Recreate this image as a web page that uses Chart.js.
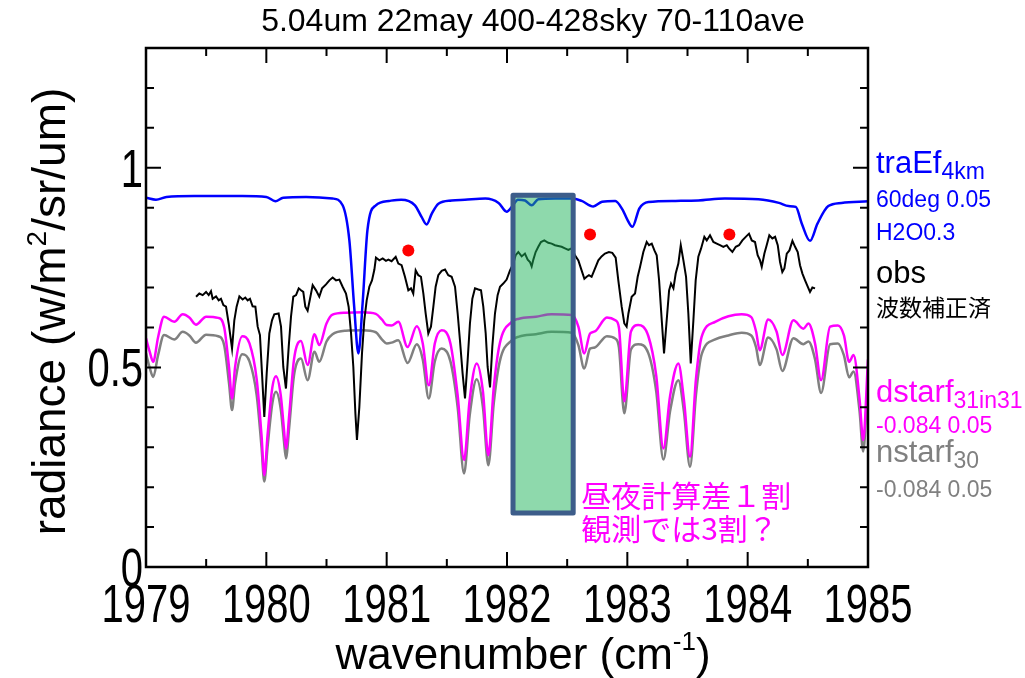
<!DOCTYPE html>
<html lang="ja">
<head>
    <meta charset="UTF-8">
    <title>5.04um 22may 400-428sky 70-110ave</title>
    <script src="https://cdn.jsdelivr.net/npm/chart.js"></script>
    <style>
        body { margin: 0; background: #fff; }
        #wrap { width: 1025px; height: 678px; }
    </style>
</head>
<body>
<div id="wrap"><canvas id="spectrumChart" width="1025" height="678"></canvas></div>
<script>
    // traEf 4km transmittance-based model (blue)
    var traX = [1979.00, 1979.083, 1979.17, 1979.40, 1979.80, 1980.00, 1980.075, 1980.14, 1980.33, 1980.55,
        1980.634, 1980.69, 1980.73, 1980.765, 1980.80, 1980.84, 1980.91, 1981.02, 1981.12, 1981.235,
        1981.29, 1981.332, 1981.375, 1981.43, 1981.54, 1981.65, 1981.82, 1981.93, 1981.997, 1982.05,
        1982.09, 1982.15, 1982.205, 1982.26, 1982.40, 1982.54, 1982.62, 1982.717, 1982.79, 1982.90,
        1982.96, 1983.00, 1983.042, 1983.10, 1983.175, 1983.40, 1983.59, 1983.81, 1984.09, 1984.26,
        1984.34, 1984.40, 1984.45, 1984.518, 1984.58, 1984.67, 1984.78, 1985.00];
    var traY = [0.925, 0.920, 0.927, 0.929, 0.929, 0.927, 0.916, 0.925, 0.927, 0.923,
        0.906, 0.818, 0.652, 0.535, 0.660, 0.843, 0.906, 0.917, 0.920, 0.906,
        0.877, 0.858, 0.885, 0.910, 0.918, 0.920, 0.923, 0.912, 0.890, 0.906,
        0.920, 0.918, 0.906, 0.921, 0.923, 0.923, 0.917, 0.903, 0.915, 0.917,
        0.895, 0.870, 0.852, 0.898, 0.914, 0.917, 0.918, 0.923, 0.921, 0.912,
        0.904, 0.902, 0.860, 0.817, 0.860, 0.904, 0.912, 0.916];

    // observed spectrum, wavenumber corrected (black)
    var obsX = [1979.416, 1979.443, 1979.471, 1979.499, 1979.521, 1979.540, 1979.554, 1979.582, 1979.604, 1979.623,
        1979.643, 1979.665, 1979.687, 1979.715, 1979.734, 1979.753, 1979.776, 1979.803, 1979.825, 1979.845,
        1979.864, 1979.886, 1979.909, 1979.928, 1979.947, 1979.964, 1979.983, 1980.003, 1980.025, 1980.047,
        1980.066, 1980.102, 1980.122, 1980.141, 1980.163, 1980.186, 1980.205, 1980.224, 1980.247, 1980.269,
        1980.288, 1980.307, 1980.324, 1980.343, 1980.363, 1980.385, 1980.413, 1980.440, 1980.463, 1980.496,
        1980.524, 1980.551, 1980.579, 1980.607, 1980.634, 1980.662, 1980.684, 1980.704, 1980.723, 1980.740,
        1980.753, 1980.773, 1980.795, 1980.814, 1980.834, 1980.856, 1980.878, 1980.898, 1980.911, 1980.939,
        1980.967, 1980.994, 1981.014, 1981.041, 1981.075, 1981.097, 1981.124, 1981.152, 1981.180, 1981.202,
        1981.221, 1981.241, 1981.263, 1981.285, 1981.305, 1981.324, 1981.346, 1981.368, 1981.388, 1981.407,
        1981.429, 1981.457, 1981.485, 1981.512, 1981.540, 1981.568, 1981.590, 1981.609, 1981.631, 1981.651,
        1981.673, 1981.692, 1981.712, 1981.734, 1981.762, 1981.784, 1981.803, 1981.823, 1981.839, 1981.859,
        1981.878, 1981.900, 1981.922, 1981.942, 1981.969, 1981.997, 1982.025, 1982.052, 1982.072, 1982.094,
        1982.122, 1982.149, 1982.172, 1982.191, 1982.205, 1982.219, 1982.238, 1982.260, 1982.282, 1982.310,
        1982.343, 1982.371, 1982.399, 1982.426, 1982.454, 1982.482, 1982.510, 1982.537, 1982.565, 1982.593,
        1982.620, 1982.643, 1982.662, 1982.681, 1982.703, 1982.725, 1982.759, 1982.786, 1982.814, 1982.847,
        1982.875, 1982.903, 1982.925, 1982.953, 1982.975, 1982.994, 1983.009, 1983.036, 1983.064, 1983.086,
        1983.106, 1983.133, 1983.161, 1983.180, 1983.203, 1983.225, 1983.244, 1983.264, 1983.286, 1983.305,
        1983.327, 1983.347, 1983.363, 1983.383, 1983.402, 1983.424, 1983.444, 1983.466, 1983.488, 1983.507,
        1983.527, 1983.549, 1983.568, 1983.590, 1983.613, 1983.640, 1983.660, 1983.687, 1983.715, 1983.743,
        1983.770, 1983.798, 1983.826, 1983.845, 1983.873, 1983.901, 1983.928, 1983.956, 1983.984, 1984.011,
        1984.034, 1984.061, 1984.083, 1984.103, 1984.117, 1984.139, 1984.158, 1984.180, 1984.205, 1984.228,
        1984.250, 1984.269, 1984.288, 1984.305, 1984.325, 1984.347, 1984.372, 1984.394, 1984.416, 1984.435,
        1984.455, 1984.477, 1984.499, 1984.518, 1984.538, 1984.560];
    var obsY = [0.677, 0.685, 0.681, 0.689, 0.681, 0.691, 0.672, 0.678, 0.668, 0.672,
        0.656, 0.652, 0.610, 0.547, 0.618, 0.652, 0.678, 0.670, 0.675, 0.668,
        0.672, 0.653, 0.652, 0.602, 0.581, 0.485, 0.376, 0.485, 0.585, 0.618,
        0.633, 0.635, 0.602, 0.501, 0.447, 0.552, 0.627, 0.677, 0.681, 0.698,
        0.693, 0.689, 0.652, 0.642, 0.672, 0.706, 0.693, 0.677, 0.698, 0.708,
        0.718, 0.725, 0.718, 0.720, 0.702, 0.685, 0.652, 0.585, 0.501, 0.385,
        0.318, 0.401, 0.535, 0.618, 0.668, 0.702, 0.718, 0.745, 0.775, 0.768,
        0.773, 0.767, 0.770, 0.766, 0.777, 0.760, 0.756, 0.727, 0.693, 0.698,
        0.685, 0.743, 0.731, 0.727, 0.685, 0.635, 0.585, 0.602, 0.652, 0.702,
        0.731, 0.742, 0.745, 0.731, 0.727, 0.702, 0.635, 0.568, 0.485, 0.422,
        0.518, 0.610, 0.672, 0.698, 0.695, 0.693, 0.652, 0.585, 0.501, 0.450,
        0.552, 0.635, 0.681, 0.702, 0.710, 0.720, 0.743, 0.760, 0.781, 0.789,
        0.778, 0.785, 0.770, 0.764, 0.753, 0.770, 0.789, 0.802, 0.814, 0.818,
        0.812, 0.810, 0.806, 0.804, 0.802, 0.798, 0.794, 0.798, 0.781, 0.768,
        0.743, 0.722, 0.727, 0.731, 0.727, 0.743, 0.768, 0.778, 0.785, 0.789,
        0.787, 0.775, 0.718, 0.652, 0.610, 0.602, 0.635, 0.677, 0.685, 0.727,
        0.752, 0.789, 0.814, 0.806, 0.810, 0.793, 0.781, 0.718, 0.618, 0.535,
        0.618, 0.693, 0.710, 0.698, 0.735, 0.760, 0.806, 0.768, 0.727, 0.635,
        0.510, 0.618, 0.718, 0.777, 0.798, 0.827, 0.818, 0.831, 0.814, 0.810,
        0.806, 0.802, 0.806, 0.798, 0.789, 0.802, 0.806, 0.818, 0.827, 0.835,
        0.818, 0.814, 0.781, 0.768, 0.752, 0.785, 0.806, 0.831, 0.823, 0.827,
        0.806, 0.764, 0.739, 0.748, 0.785, 0.793, 0.817, 0.802, 0.789, 0.756,
        0.735, 0.718, 0.702, 0.689, 0.700, 0.698];

    // dstarf 31in31 daytime model (magenta)
    var dstarfX = [1979.00, 1979.03, 1979.06, 1979.10, 1979.15, 1979.235, 1979.305, 1979.36, 1979.415, 1979.50,
        1979.60, 1979.65, 1979.69, 1979.715, 1979.74, 1979.80, 1979.86, 1979.92, 1979.96, 1979.983,
        1980.01, 1980.05, 1980.08, 1980.12, 1980.145, 1980.163, 1980.19, 1980.23, 1980.288, 1980.343,
        1980.40, 1980.44, 1980.50, 1980.55, 1980.66, 1980.80, 1980.91, 1980.96, 1981.00, 1981.04,
        1981.097, 1981.174, 1981.25, 1981.30, 1981.35, 1981.40, 1981.457, 1981.53, 1981.59, 1981.643,
        1981.69, 1981.748, 1981.80, 1981.845, 1981.89, 1981.94, 1982.04, 1982.10, 1982.24, 1982.37,
        1982.54, 1982.593, 1982.642, 1982.69, 1982.73, 1982.83, 1982.90, 1982.93, 1982.975, 1983.03,
        1983.09, 1983.175, 1983.24, 1983.30, 1983.355, 1983.424, 1983.47, 1983.521, 1983.57, 1983.618,
        1983.73, 1983.84, 1983.95, 1984.03, 1984.07, 1984.10, 1984.17, 1984.24, 1984.288, 1984.38,
        1984.463, 1984.505, 1984.56, 1984.61, 1984.685, 1984.75, 1984.80, 1984.843, 1984.88, 1984.93,
        1984.96, 1985.00];
    var dstarfY = [0.573, 0.540, 0.514, 0.575, 0.627, 0.614, 0.633, 0.625, 0.607, 0.627,
        0.624, 0.600, 0.500, 0.422, 0.500, 0.578, 0.560, 0.470, 0.330, 0.230,
        0.330, 0.450, 0.478, 0.430, 0.350, 0.297, 0.380, 0.520, 0.566, 0.506,
        0.583, 0.556, 0.610, 0.632, 0.637, 0.638, 0.634, 0.620, 0.606, 0.605,
        0.614, 0.551, 0.603, 0.560, 0.455, 0.560, 0.593, 0.560, 0.430, 0.268,
        0.420, 0.510, 0.440, 0.280, 0.450, 0.560, 0.614, 0.622, 0.627, 0.633,
        0.631, 0.602, 0.535, 0.585, 0.590, 0.625, 0.618, 0.600, 0.415, 0.590,
        0.606, 0.578, 0.480, 0.297, 0.428, 0.510, 0.420, 0.276, 0.470, 0.577,
        0.614, 0.628, 0.633, 0.626, 0.590, 0.543, 0.620, 0.590, 0.531, 0.618,
        0.597, 0.610, 0.560, 0.468, 0.602, 0.605, 0.580, 0.514, 0.531, 0.420,
        0.318, 0.520];

    // nstarf 30 nighttime model (gray)
    var nstarfX = dstarfX.slice();
    var nstarfY = [0.535, 0.500, 0.476, 0.530, 0.581, 0.570, 0.589, 0.580, 0.562, 0.582,
        0.578, 0.555, 0.460, 0.393, 0.460, 0.533, 0.515, 0.430, 0.300, 0.214,
        0.300, 0.410, 0.439, 0.395, 0.320, 0.272, 0.350, 0.480, 0.522, 0.468,
        0.539, 0.514, 0.565, 0.583, 0.592, 0.593, 0.588, 0.570, 0.560, 0.562,
        0.568, 0.511, 0.558, 0.520, 0.422, 0.515, 0.547, 0.515, 0.400, 0.234,
        0.380, 0.470, 0.400, 0.255, 0.410, 0.515, 0.568, 0.577, 0.583, 0.589,
        0.587, 0.556, 0.497, 0.547, 0.550, 0.578, 0.572, 0.550, 0.385, 0.545,
        0.558, 0.535, 0.440, 0.269, 0.390, 0.468, 0.390, 0.251, 0.430, 0.533,
        0.570, 0.580, 0.587, 0.580, 0.550, 0.506, 0.575, 0.545, 0.491, 0.573,
        0.558, 0.565, 0.520, 0.436, 0.558, 0.560, 0.530, 0.475, 0.490, 0.390,
        0.289, 0.480];

    // red markers above the continuum points
    var markX = [1981.18, 1982.69, 1983.848];
    var markY = [0.793, 0.833, 0.833];

    // shaded window: wavenumber range and radiance range
    var bandX = [1982.05, 1982.55];
    var bandY = [0.135, 0.931];

    var xTickValues = [1979, 1980, 1981, 1982, 1983, 1984, 1985];
    var yTickValues = [0, 0.5, 1];

    var SANS = "'Liberation Sans', Arial, sans-serif";
    var CJK = "'Noto Sans CJK JP', sans-serif";

    function toPoints(xs, ys) {
        return xs.map(function (x, i) { return { x: x, y: ys[i] }; });
    }

    // draws [text, size, rise, family] pieces one after another on a baseline
    function drawParts(ctx, x, y, parts) {
        parts.forEach(function (p) {
            ctx.font = p[1] + 'px ' + (p[3] || SANS);
            ctx.fillText(p[0], x, y - (p[2] || 0));
            x += ctx.measureText(p[0]).width;
        });
        return x;
    }

    function partsWidth(ctx, parts) {
        var w = 0;
        parts.forEach(function (p) {
            ctx.font = p[1] + 'px ' + (p[3] || SANS);
            w += ctx.measureText(p[0]).width;
        });
        return w;
    }

    // narrow axis numbers: regular face squeezed sideways
    function drawNarrow(ctx, text, x, y, align) {
        ctx.save();
        ctx.translate(x, y);
        ctx.scale(0.74, 1);
        ctx.textAlign = align;
        ctx.font = '54px ' + SANS;
        ctx.fillText(text, 0, 0);
        ctx.restore();
    }

    var framePlugin = {
        id: 'frame',
        afterDatasetsDraw: function (chart) {
            var ctx = chart.ctx, a = chart.chartArea;
            var xs = chart.scales.x, ys = chart.scales.y;
            ctx.save();

            // shaded window
            var bx0 = xs.getPixelForValue(bandX[0]), bx1 = xs.getPixelForValue(bandX[1]);
            var by0 = ys.getPixelForValue(bandY[1]), by1 = ys.getPixelForValue(bandY[0]);
            ctx.fillStyle = 'rgba(30, 180, 90, 0.5)';
            ctx.fillRect(bx0, by0, bx1 - bx0, by1 - by0);
            ctx.strokeStyle = '#3d5d8a';
            ctx.lineWidth = 5;
            ctx.lineJoin = 'round';
            ctx.strokeRect(bx0, by0, bx1 - bx0, by1 - by0);

            // box and inward ticks
            ctx.strokeStyle = '#000';
            ctx.lineWidth = 2.5;
            ctx.lineJoin = 'miter';
            ctx.strokeRect(a.left, a.top, a.right - a.left, a.bottom - a.top);
            ctx.lineWidth = 2;
            ctx.beginPath();
            for (var v = 1979.5; v < 1985; v += 0.5) {
                var px = xs.getPixelForValue(v);
                var len = (v % 1 === 0) ? 15 : 8;
                ctx.moveTo(px, a.bottom); ctx.lineTo(px, a.bottom - len);
                ctx.moveTo(px, a.top); ctx.lineTo(px, a.top + len);
            }
            for (var k = 1; k < 13; k++) {
                var py = ys.getPixelForValue(k / 10);
                var l2 = (k % 5 === 0) ? 15 : 8;
                ctx.moveTo(a.left, py); ctx.lineTo(a.left + l2, py);
                ctx.moveTo(a.right, py); ctx.lineTo(a.right - l2, py);
            }
            ctx.stroke();
            ctx.restore();
        },
        afterDraw: function (chart) {
            var ctx = chart.ctx, a = chart.chartArea;
            var xs = chart.scales.x, ys = chart.scales.y;
            ctx.save();
            ctx.textBaseline = 'alphabetic';
            ctx.textAlign = 'left';
            ctx.fillStyle = '#000';

            // tick numbers
            xs.ticks.forEach(function (t) {
                drawNarrow(ctx, String(t.value), xs.getPixelForValue(t.value), a.bottom + 55, 'center');
            });
            ys.ticks.forEach(function (t) {
                drawNarrow(ctx, String(t.value), a.left - 3, ys.getPixelForValue(t.value) + 19, 'right');
            });

            // title
            ctx.font = '32px ' + SANS;
            var title = '5.04um 22may 400-428sky 70-110ave';
            ctx.fillText(title, 533 - ctx.measureText(title).width / 2, 31);

            // x axis title
            var xt = [['wavenumber (cm', 44], ['-1', 26, 19], [')', 44]];
            drawParts(ctx, 523 - partsWidth(ctx, xt) / 2, 669, xt);

            // y axis title
            var yt = [['radiance (w/m', 46], ['2', 28, 19], ['/sr/um)', 46]];
            ctx.translate(65, (a.top + a.bottom) / 2 + 4);
            ctx.rotate(-Math.PI / 2);
            drawParts(ctx, -partsWidth(ctx, yt) / 2, 0, yt);
            ctx.setTransform(1, 0, 0, 1, 0, 0);

            // series names at the right
            var lx = a.right + 8;
            ctx.fillStyle = '#0000ff';
            drawParts(ctx, lx, 173, [['traEf', 31], ['4km', 23, -6]]);
            drawParts(ctx, lx, 207, [['60deg 0.05', 23]]);
            drawParts(ctx, lx, 240, [['H2O0.3', 23]]);
            ctx.fillStyle = '#000';
            drawParts(ctx, lx, 283, [['obs', 31]]);
            drawParts(ctx, lx, 316, [['波数補正済', 23, 0, CJK]]);
            ctx.fillStyle = '#ff00ff';
            drawParts(ctx, lx, 402, [['dstarf', 31], ['31in31', 23, -6]]);
            drawParts(ctx, lx, 433, [['-0.084 0.05', 23]]);
            ctx.fillStyle = '#808080';
            drawParts(ctx, lx, 462, [['nstarf', 31], ['30', 23, -6]]);
            drawParts(ctx, lx, 497, [['-0.084 0.05', 23]]);

            // note beside the shaded window
            ctx.fillStyle = '#ff00ff';
            var nx = xs.getPixelForValue(bandX[1]) + 8;
            drawParts(ctx, nx, 507, [['昼夜計算差１割', 30, 0, CJK]]);
            drawParts(ctx, nx, 540, [['観測では3割？', 30, 0, CJK]]);
            ctx.restore();
        }
    };

    var ctx = document.getElementById('spectrumChart').getContext('2d');
    var spectrumChart = new Chart(ctx, {
        type: 'line',
        data: {
            datasets: [{
                label: 'marks',
                data: toPoints(markX, markY),
                showLine: false,
                pointRadius: 6,
                pointBackgroundColor: '#ff0000',
                pointBorderWidth: 0
            }, {
                label: 'traEf4km',
                data: toPoints(traX, traY),
                borderColor: '#0000ff',
                borderWidth: 2.5,
                cubicInterpolationMode: 'monotone',
                pointRadius: 0
            }, {
                label: 'obs',
                data: toPoints(obsX, obsY),
                borderColor: '#000000',
                borderWidth: 2,
                tension: 0,
                pointRadius: 0
            }, {
                label: 'dstarf31in31',
                data: toPoints(dstarfX, dstarfY),
                borderColor: '#ff00ff',
                borderWidth: 2.5,
                cubicInterpolationMode: 'monotone',
                pointRadius: 0
            }, {
                label: 'nstarf30',
                data: toPoints(nstarfX, nstarfY),
                borderColor: '#808080',
                borderWidth: 2.5,
                cubicInterpolationMode: 'monotone',
                pointRadius: 0
            }]
        },
        options: {
            responsive: false,
            animation: false,
            events: [],
            layout: { padding: { left: 0, right: 157, top: 48, bottom: 0 } },
            plugins: {
                legend: { display: false },
                tooltip: { enabled: false },
                title: { display: false }
            },
            scales: {
                x: {
                    type: 'linear',
                    min: 1979,
                    max: 1985,
                    grid: { display: false, drawTicks: false },
                    border: { display: false },
                    afterBuildTicks: function (scale) {
                        scale.ticks = xTickValues.map(function (v) { return { value: v }; });
                    },
                    afterFit: function (scale) { scale.height = 111; },
                    ticks: { display: false }
                },
                y: {
                    min: 0,
                    max: 1.3,
                    grid: { display: false, drawTicks: false },
                    border: { display: false },
                    afterBuildTicks: function (scale) {
                        scale.ticks = yTickValues.map(function (v) { return { value: v }; });
                    },
                    afterFit: function (scale) { scale.width = 146; },
                    ticks: { display: false }
                }
            }
        },
        plugins: [framePlugin]
    });
</script>
</body>
</html>
